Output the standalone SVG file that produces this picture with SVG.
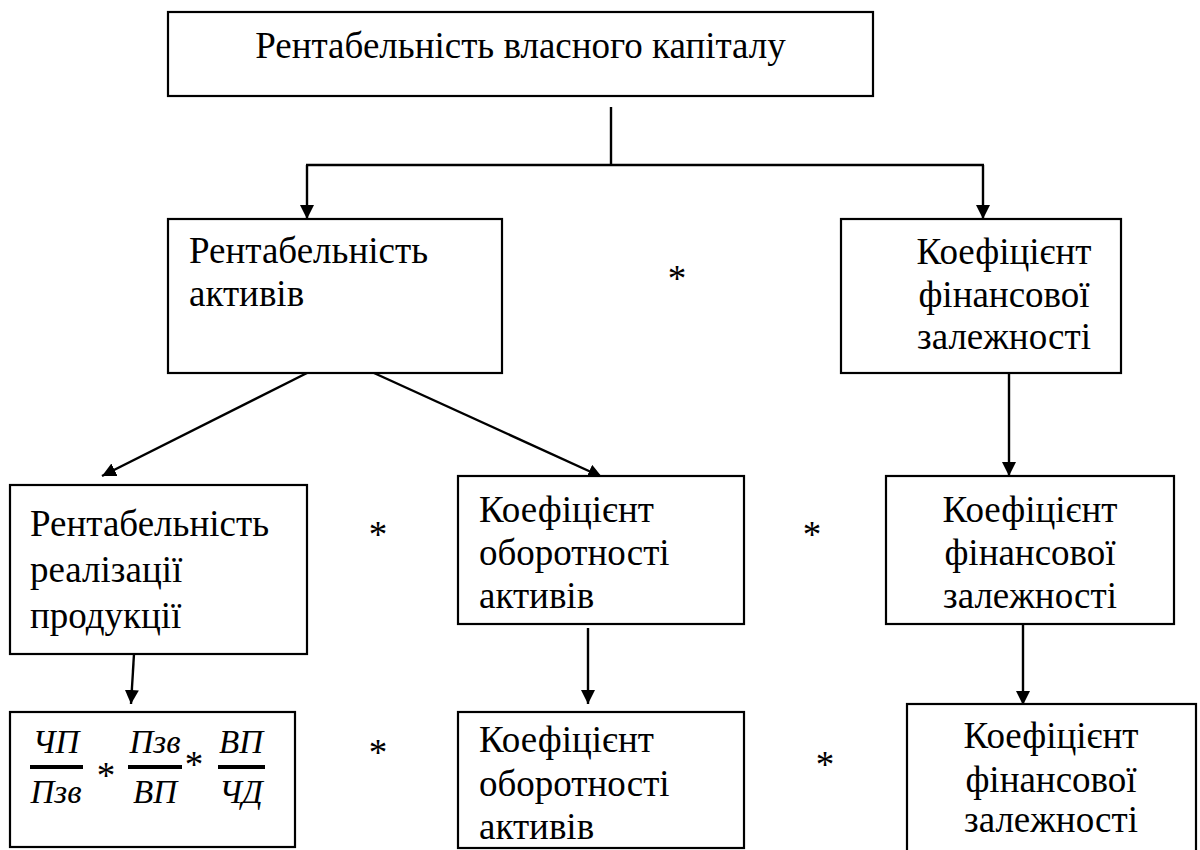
<svg xmlns="http://www.w3.org/2000/svg" width="1200" height="850" viewBox="0 0 1200 850">
<defs>
<marker id="ah" markerUnits="userSpaceOnUse" markerWidth="16" markerHeight="16" refX="14" refY="7" orient="auto">
<path d="M0,0 L14,7 L0,14 Z" fill="#000"/>
</marker>
<style>
.box{fill:#fff;stroke:#000;stroke-width:2.2}
.t{font-family:'Liberation Serif','Times New Roman',serif;font-size:37px;fill:#000}
.c{text-anchor:middle}
.f{font-family:'Liberation Serif','Times New Roman',serif;font-size:33px;font-style:italic;fill:#000;text-anchor:middle}
.ln{stroke:#000;stroke-width:2.4;fill:none}
.ar{stroke:#000;stroke-width:2.4;fill:none;marker-end:url(#ah)}
.fl{stroke:#000;stroke-width:4}
</style>
</defs>
<rect width="1200" height="850" fill="#fff"/>
<g id="connectors">
<line class="ln" x1="611" y1="107" x2="611" y2="165"/>
<line class="ln" x1="306" y1="165" x2="984" y2="165"/>
<line class="ar" x1="307" y1="165" x2="307" y2="219"/>
<line class="ar" x1="983" y1="165" x2="983" y2="219"/>
<line class="ar" x1="307" y1="373" x2="102" y2="476"/>
<line class="ar" x1="374" y1="373" x2="602" y2="477"/>
<line class="ar" x1="1009" y1="373" x2="1009" y2="476"/>
<line class="ar" x1="134" y1="654" x2="131" y2="704"/>
<line class="ar" x1="588" y1="628" x2="588" y2="704"/>
<line class="ar" x1="1023" y1="624" x2="1023" y2="705"/>
</g>
<g id="n_roe">
<rect class="box" x="168" y="12" width="705" height="84"/>
<text class="t c" x="520.5" y="58">Рентабельність власного капіталу</text>
</g>
<g id="n_roa">
<rect class="box" x="168" y="219" width="334" height="154"/>
<text class="t" x="189" y="263">Рентабельність</text>
<text class="t" x="189" y="306">активів</text>
</g>
<g id="op1"><text class="t c" x="677" y="291">*</text></g>
<g id="n_kfz1">
<rect class="box" x="841" y="219" width="280" height="154"/>
<text class="t c" x="1004" y="264">Коефіцієнт</text>
<text class="t c" x="1004" y="307">фінансової</text>
<text class="t c" x="1004" y="349">залежності</text>
</g>
<g id="n_ros">
<rect class="box" x="10" y="485" width="297" height="169"/>
<text class="t" x="30" y="536">Рентабельність</text>
<text class="t" x="30" y="582">реалізації</text>
<text class="t" x="30" y="628">продукції</text>
</g>
<g id="op2"><text class="t c" x="378" y="547">*</text></g>
<g id="n_koa1">
<rect class="box" x="458" y="476" width="286" height="148"/>
<text class="t" x="479" y="522">Коефіцієнт</text>
<text class="t" x="479" y="565">оборотності</text>
<text class="t" x="479" y="608">активів</text>
</g>
<g id="op3"><text class="t c" x="812" y="547">*</text></g>
<g id="n_kfz2">
<rect class="box" x="886" y="476" width="288" height="148"/>
<text class="t c" x="1030" y="522">Коефіцієнт</text>
<text class="t c" x="1030" y="565">фінансової</text>
<text class="t c" x="1030" y="608">залежності</text>
</g>
<g id="n_formula">
<rect class="box" x="10" y="712" width="285" height="135"/>
<text class="f" x="56" y="753">ЧП</text>
<line class="fl" x1="30" y1="767" x2="83" y2="767"/>
<text class="f" x="56" y="803">Пзв</text>
<text class="t c" x="106" y="788">*</text>
<text class="f" x="155" y="753">Пзв</text>
<line class="fl" x1="128" y1="767" x2="182" y2="767"/>
<text class="f" x="155" y="803">ВП</text>
<text class="t c" x="194" y="777">*</text>
<text class="f" x="241" y="753">ВП</text>
<line class="fl" x1="218" y1="767" x2="265" y2="767"/>
<text class="f" x="241" y="803">ЧД</text>
</g>
<g id="op4"><text class="t c" x="378" y="765">*</text></g>
<g id="n_koa2">
<rect class="box" x="458" y="712" width="286" height="136"/>
<text class="t" x="479" y="752">Коефіцієнт</text>
<text class="t" x="479" y="796">оборотності</text>
<text class="t" x="479" y="839">активів</text>
</g>
<g id="op5"><text class="t c" x="825" y="777">*</text></g>
<g id="n_kfz3">
<rect class="box" x="907" y="704" width="289" height="170"/>
<text class="t c" x="1051" y="748">Коефіцієнт</text>
<text class="t c" x="1051" y="792">фінансової</text>
<text class="t c" x="1051" y="832">залежності</text>
</g>
</svg>
